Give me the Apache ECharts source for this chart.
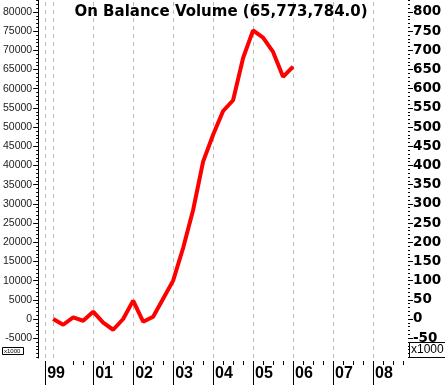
<!DOCTYPE html>
<html>
<head>
<meta charset="utf-8">
<script src="https://cdn.jsdelivr.net/npm/echarts@6/dist/echarts.min.js"></script>
<style>html,body{margin:0;padding:0;background:#fff;}#c{width:445px;height:385px;}</style>
</head>
<body>
<div id="c"></div>
<script>
// ---- data ----
const dates = [2000.00, 2000.25, 2000.50, 2000.75, 2001.00, 2001.25, 2001.50, 2001.75,
               2002.00, 2002.25, 2002.50, 2002.75, 2003.00, 2003.25, 2003.50, 2003.75,
               2004.00, 2004.25, 2004.50, 2004.75, 2005.00, 2005.25, 2005.50, 2005.75, 2006.00];
const obv = [0, -1500, 400, -450, 1900, -950, -2800, 0,
             4800, -700, 600, 5300, 10000, 18500, 28400, 41000,
             48000, 54200, 57000, 68000, 75200, 73300, 69600, 63100, 65774];
const yearTicks = [1999.8, 2001, 2002, 2003, 2004, 2005, 2006, 2007, 2008];
const yearLabels = ['99', '01', '02', '03', '04', '05', '06', '07', '08'];
const quarterTicks = [2000.5, 2000.75, 2001.25, 2001.5, 2001.75, 2002.25, 2002.5, 2002.75,
                      2003.25, 2003.5, 2003.75, 2004.25, 2004.5, 2004.75, 2005.25, 2005.5, 2005.75,
                      2006.25, 2006.5, 2006.75, 2007.25, 2007.5, 2007.75, 2008.25, 2008.5, 2008.75];
const gridYears = [1999.8, 2000, 2001, 2002, 2003, 2004, 2005, 2006, 2007, 2008];
const leftTicks = [-5000, 0, 5000, 10000, 15000, 20000, 25000, 30000, 35000, 40000,
                   45000, 50000, 55000, 60000, 65000, 70000, 75000, 80000];
const rightTicks = [-50, 0, 50, 100, 150, 200, 250, 300, 350, 400, 450, 500, 550, 600, 650, 700, 750, 800];
const titleText = 'On Balance Volume (65,773,784.0)';
const unitLabel = 'x1000';

// ---- layout ----
const yMinL = -10163, yMaxL = 83127;
const xMin = 1999.625, xMax = 2008.875;
const leftMinor = [];
for (let v = -10000; v <= 83000; v += 1000) leftMinor.push(v);
const rightMinor = [];
for (let v = -100; v <= 830; v += 10) rightMinor.push(v);

const chart = echarts.init(document.getElementById('c'), null, {renderer: 'canvas'});
const xBase = {type: 'value', min: xMin, max: xMax, gridIndex: 0, splitLine: {show: false},
  axisLine: {show: false, onZero: false}};
chart.setOption({
  animation: false,
  backgroundColor: '#fff',
  grid: {left: 38, right: 37, top: 0, bottom: 27, containLabel: false},
  xAxis: [
    Object.assign({}, xBase, {
      position: 'bottom', offset: 3,
      axisTick: {show: true, customValues: yearTicks, length: 24, lineStyle: {color: '#000', width: 1}},
      axisLabel: {show: true, customValues: yearTicks, align: 'left', margin: 5,
        padding: [0, 0, 0, 2],
        formatter: v => { const i = yearTicks.findIndex(t => Math.abs(t - v) < 1e-6); return i >= 0 ? yearLabels[i] : ''; },
        fontFamily: 'Liberation Sans', fontWeight: 'bold', fontSize: 16, color: '#000'}
    }),
    Object.assign({}, xBase, {
      position: 'bottom', offset: 3,
      axisTick: {show: true, customValues: quarterTicks, length: 4, lineStyle: {color: '#000', width: 1}},
      axisLabel: {show: false}
    })
  ],
  yAxis: [
    {type: 'value', position: 'left', min: yMinL, max: yMaxL, splitLine: {show: false},
      axisLine: {show: true, onZero: false, lineStyle: {color: '#000', width: 1}},
      axisTick: {show: true, customValues: leftTicks, length: 5, lineStyle: {color: '#000'}},
      axisLabel: {show: true, customValues: leftTicks, margin: 6, fontFamily: 'Liberation Sans',
        fontSize: 10.5, color: '#222', formatter: v => String(v)}},
    {type: 'value', position: 'left', min: yMinL, max: yMaxL, splitLine: {show: false},
      axisLine: {show: false, onZero: false},
      axisTick: {show: true, customValues: leftMinor, length: 2, lineStyle: {color: '#000'}},
      axisLabel: {show: false}},
    {type: 'value', position: 'right', min: yMinL / 100, max: yMaxL / 100, splitLine: {show: false},
      axisLine: {show: false, onZero: false},
      axisTick: {show: true, customValues: rightTicks, length: 5, lineStyle: {color: '#000'}},
      axisLabel: {show: true, customValues: rightTicks, margin: 5, fontFamily: 'DejaVu Sans',
        fontWeight: 'bold', fontSize: 13.5, color: '#000', formatter: v => String(v)}},
    {type: 'value', position: 'right', min: yMinL / 100, max: yMaxL / 100, splitLine: {show: false},
      axisLine: {show: false, onZero: false},
      axisTick: {show: true, customValues: rightMinor, length: 2, lineStyle: {color: '#000'}},
      axisLabel: {show: false}}
  ],
  series: [
    {type: 'line', xAxisIndex: 0, yAxisIndex: 0, data: [], silent: true,
      markLine: {silent: true, symbol: ['none', 'none'], label: {show: false},
        lineStyle: {color: '#bbb', type: [4, 4], width: 1},
        data: gridYears.map(v => ({xAxis: v}))}},
    {type: 'line', xAxisIndex: 0, yAxisIndex: 0, showSymbol: false, smooth: false,
      lineStyle: {color: '#ff0000', width: 4}, z: 5,
      data: dates.map((d, i) => [d, obv[i]])}
  ],
  graphic: [
    {type: 'text', z: 10, x: 221, y: 5, style: {text: titleText, textAlign: 'center',
      font: 'bold 15px "DejaVu Sans"', fill: '#000'}},
    {type: 'rect', z: 10, shape: {x: 2.5, y: 347.5, width: 21, height: 7},
      style: {fill: '#fff', stroke: '#000', lineWidth: 1}},
    {type: 'text', z: 11, x: 4, y: 348, style: {text: unitLabel, font: '6px "Liberation Sans"', fill: '#000'}},
    {type: 'rect', z: 10, shape: {x: 409.5, y: 342.5, width: 40, height: 15},
      style: {fill: '#fff', stroke: '#000', lineWidth: 1}},
    {type: 'text', z: 11, x: 411, y: 344, style: {text: unitLabel, font: '12px "Liberation Sans"', fill: '#000'}}
  ]
});
</script>
</body>
</html>
